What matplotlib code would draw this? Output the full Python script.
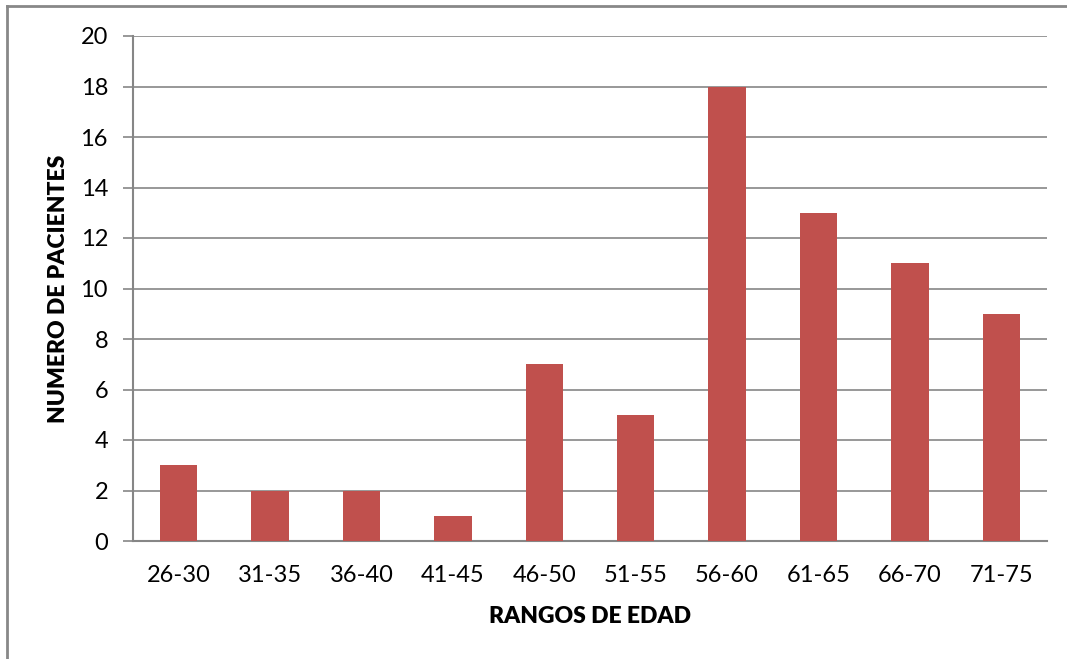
import matplotlib.pyplot as plt
from matplotlib.lines import Line2D

plt.rcParams['font.family'] = ['Lato', 'DejaVu Sans']

rangos = ["26-30", "31-35", "36-40", "41-45", "46-50",
          "51-55", "56-60", "61-65", "66-70", "71-75"]
pacientes = [3, 2, 2, 1, 7, 5, 18, 13, 11, 9]
y_ticks = list(range(0, 21, 2))

fig = plt.figure(figsize=(10.67, 6.59), dpi=100)
ax = fig.add_axes([133 / 1067, 1 - 541 / 659, (1047 - 133) / 1067, (541 - 36) / 659])

grid_color = "#868686"
ax.bar(range(len(rangos)), pacientes, width=0.41, color="#C0504D", zorder=3)

ax.set_xlim(-0.5, len(rangos) - 0.5)
ax.set_ylim(0, 20)
ax.set_yticks(y_ticks)
ax.set_xticks(range(len(rangos)))
ax.set_xticklabels(rangos)
ax.yaxis.grid(True, color=grid_color, linewidth=1.2, zorder=0)

for side in ("top", "right"):
    ax.spines[side].set_visible(False)
for side in ("left", "bottom"):
    ax.spines[side].set_color(grid_color)
    ax.spines[side].set_linewidth(1.5)

ax.tick_params(axis="y", length=7, width=1.2, color=grid_color, labelsize=17, pad=11)
ax.tick_params(axis="x", length=0, labelsize=17, pad=17)

ax.set_xlabel("RANGOS DE EDAD", fontsize=16.5, fontweight="heavy", labelpad=15)
ax.set_ylabel("NUMERO DE PACIENTES", fontsize=16.5, fontweight="heavy", labelpad=8)

# chart area border
fig.add_artist(Line2D([7 / 1067, 7 / 1067], [0, 1 - 6 / 659], color="#888888", lw=2))
fig.add_artist(Line2D([7 / 1067, 1], [1 - 6 / 659, 1 - 6 / 659], color="#888888", lw=2))

fig.savefig("out.png", dpi=100)
